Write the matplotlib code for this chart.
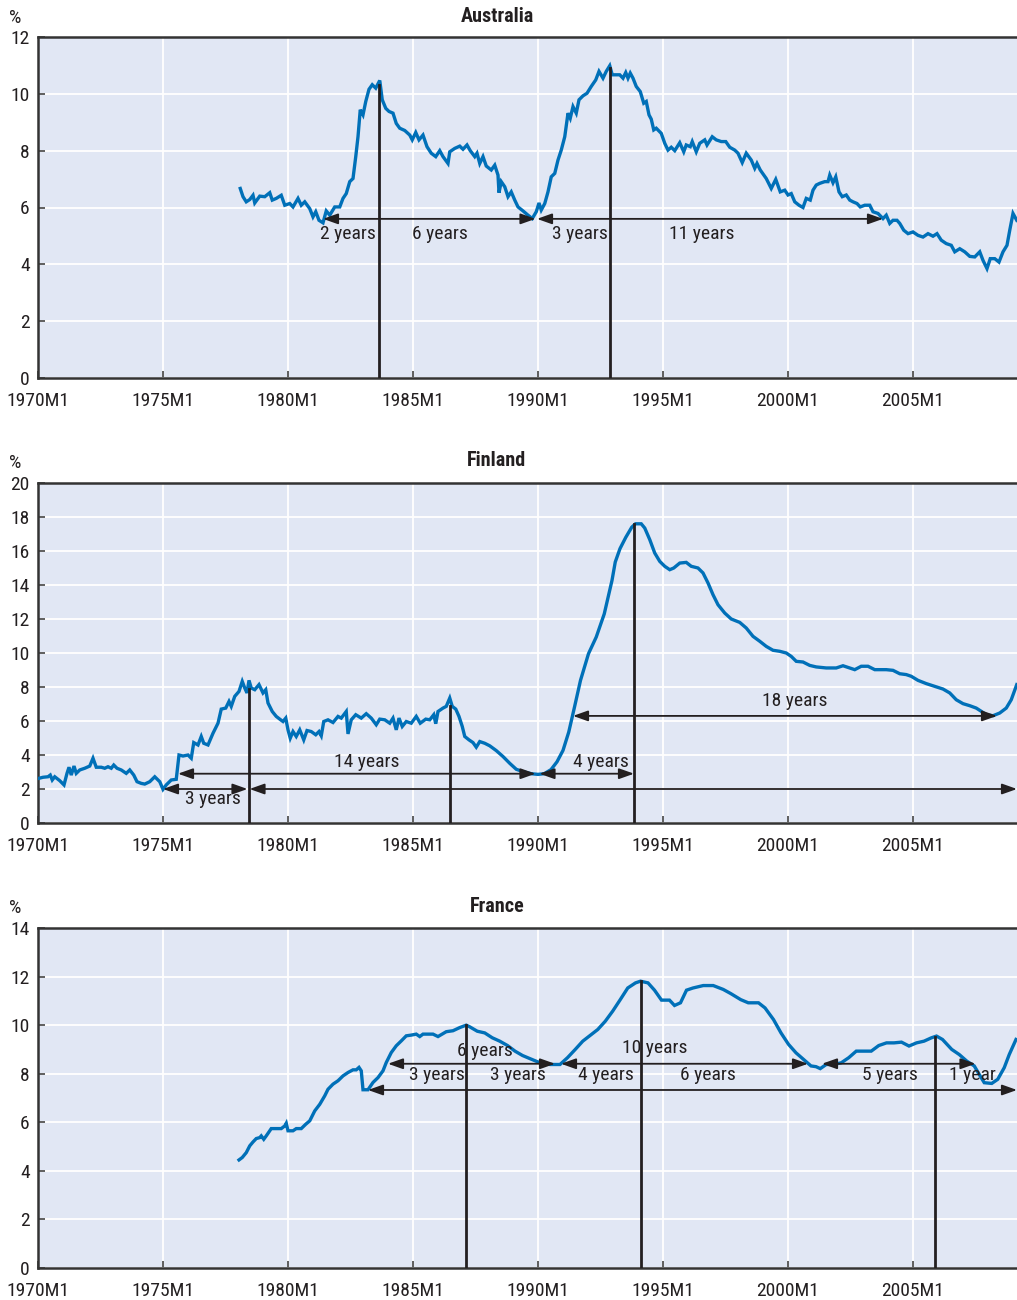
import matplotlib
matplotlib.use("Agg")
from matplotlib import pyplot as plt
from matplotlib import font_manager

# --- Australia --------------------------------------------------------------
aus_x = [1978.09, 1978.2, 1978.33, 1978.47, 1978.6, 1978.67, 1978.87, 1979.07,
         1979.27, 1979.37, 1979.53, 1979.73, 1979.87, 1980.07, 1980.2, 1980.4,
         1980.53, 1980.67, 1980.87, 1981.0, 1981.11, 1981.24, 1981.4, 1981.53,
         1981.67, 1981.87, 1982.07, 1982.2, 1982.33, 1982.47, 1982.6, 1982.71,
         1982.8, 1982.89, 1983.0, 1983.11, 1983.24, 1983.37, 1983.51, 1983.67,
         1983.77, 1983.91, 1984.04, 1984.2, 1984.33, 1984.47, 1984.67, 1984.87,
         1984.97, 1985.11, 1985.24, 1985.4, 1985.56, 1985.73, 1985.91, 1986.07,
         1986.2, 1986.4, 1986.47, 1986.67, 1986.87, 1987.0, 1987.16, 1987.29,
         1987.47, 1987.56, 1987.67, 1987.8, 1987.93, 1988.13, 1988.27, 1988.4,
         1988.44, 1988.53, 1988.67, 1988.8, 1988.93, 1989.07, 1989.2, 1989.4,
         1989.6, 1989.77, 1989.93, 1990.04, 1990.13, 1990.27, 1990.4, 1990.53,
         1990.67, 1990.8, 1990.93, 1991.07, 1991.2, 1991.29, 1991.4, 1991.53,
         1991.64, 1991.8, 1991.96, 1992.13, 1992.31, 1992.44, 1992.6, 1992.73,
         1992.87, 1992.97, 1993.13, 1993.27, 1993.4, 1993.51, 1993.6, 1993.69,
         1993.8, 1993.93, 1994.09, 1994.23, 1994.33, 1994.44, 1994.53, 1994.63,
         1994.73, 1994.93, 1995.07, 1995.2, 1995.33, 1995.47, 1995.67, 1995.83,
         1995.93, 1996.09, 1996.17, 1996.33, 1996.47, 1996.67, 1996.76, 1996.97,
         1997.13, 1997.33, 1997.51, 1997.67, 1997.87, 1998.0, 1998.17, 1998.33,
         1998.53, 1998.67, 1998.76, 1998.89, 1999.13, 1999.33, 1999.51, 1999.69,
         1999.87, 2000.0, 2000.13, 2000.27, 2000.44, 2000.6, 2000.73, 2000.89,
         2001.0, 2001.13, 2001.27, 2001.47, 2001.6, 2001.67, 2001.8, 2001.91,
         2002.04, 2002.17, 2002.33, 2002.47, 2002.6, 2002.76, 2002.89, 2003.07,
         2003.27, 2003.4, 2003.6, 2003.8, 2003.93, 2004.07, 2004.2, 2004.36,
         2004.47, 2004.63, 2004.8, 2005.0, 2005.2, 2005.4, 2005.6, 2005.8,
         2005.96, 2006.13, 2006.33, 2006.53, 2006.67, 2006.87, 2007.07, 2007.27,
         2007.47, 2007.67, 2007.8, 2007.96, 2008.09, 2008.27, 2008.44, 2008.6,
         2008.76, 2008.87, 2009.0, 2009.15]
aus_y = [6.67, 6.38, 6.2, 6.28, 6.43, 6.16, 6.4, 6.38,
         6.52, 6.26, 6.32, 6.43, 6.08, 6.14, 6.02, 6.32,
         6.08, 6.2, 5.96, 5.67, 5.85, 5.55, 5.46, 5.88,
         5.73, 6.02, 6.02, 6.32, 6.49, 6.91, 7.02, 7.79,
         8.49, 9.44, 9.26, 9.73, 10.16, 10.32, 10.2, 10.47,
         9.79, 9.49, 9.38, 9.32, 8.96, 8.79, 8.71, 8.55,
         8.38, 8.64, 8.38, 8.55, 8.14, 7.91, 7.79, 8.0,
         7.79, 7.55, 7.96, 8.08, 8.16, 8.05, 8.2, 8.0,
         7.79, 7.91, 7.55, 7.79, 7.46, 7.32, 7.49, 7.14,
         6.52, 6.91, 6.73, 6.38, 6.55, 6.26, 6.02, 5.88,
         5.73, 5.61, 5.85, 6.16, 5.91, 6.14, 6.55, 7.08,
         7.2, 7.67, 8.02, 8.49, 9.32, 9.14, 9.55, 9.32,
         9.79, 9.93, 10.02, 10.26, 10.49, 10.79, 10.55, 10.79,
         10.99, 10.67, 10.67, 10.67, 10.55, 10.75, 10.55, 10.73,
         10.55, 10.26, 10.08, 9.67, 9.73, 9.26, 9.11, 8.73,
         8.79, 8.61, 8.26, 8.02, 8.12, 8.0, 8.28, 7.96,
         8.2, 8.14, 8.32, 7.96, 8.26, 8.38, 8.2, 8.49,
         8.38, 8.32, 8.32, 8.12, 8.02, 7.91, 7.58, 7.91,
         7.67, 7.38, 7.55, 7.32, 7.02, 6.67, 6.99, 6.55,
         6.61, 6.44, 6.49, 6.2, 6.08, 6.0, 6.32, 6.26,
         6.61, 6.79, 6.85, 6.91, 6.91, 7.14, 6.87, 7.08,
         6.55, 6.38, 6.44, 6.26, 6.2, 6.14, 6.02, 6.08,
         6.08, 5.85, 5.79, 5.61, 5.73, 5.44, 5.55, 5.55,
         5.44, 5.2, 5.08, 5.14, 5.02, 4.96, 5.08, 4.99,
         5.08, 4.85, 4.73, 4.67, 4.44, 4.55, 4.44, 4.28,
         4.26, 4.44, 4.14, 3.85, 4.2, 4.2, 4.08, 4.44,
         4.67, 5.2, 5.79, 5.55]

# --- Finland ----------------------------------------------------------------
fin_x = [1970.04, 1970.2, 1970.4, 1970.49, 1970.57, 1970.67, 1970.87, 1971.04,
         1971.16, 1971.24, 1971.33, 1971.44, 1971.53, 1971.67, 1971.87, 1972.07,
         1972.2, 1972.33, 1972.53, 1972.67, 1972.8, 1972.93, 1973.03, 1973.16,
         1973.33, 1973.53, 1973.67, 1973.83, 1973.96, 1974.13, 1974.27, 1974.47,
         1974.67, 1974.87, 1975.0, 1975.13, 1975.33, 1975.53, 1975.64, 1975.8,
         1976.0, 1976.13, 1976.23, 1976.4, 1976.53, 1976.63, 1976.8, 1977.0,
         1977.2, 1977.33, 1977.51, 1977.64, 1977.73, 1977.87, 1978.04, 1978.17,
         1978.27, 1978.36, 1978.44, 1978.53, 1978.67, 1978.84, 1979.0, 1979.11,
         1979.2, 1979.37, 1979.53, 1979.67, 1979.8, 1979.91, 1980.0, 1980.09,
         1980.2, 1980.33, 1980.47, 1980.63, 1980.76, 1980.93, 1981.11, 1981.24,
         1981.33, 1981.43, 1981.6, 1981.8, 1982.0, 1982.13, 1982.33, 1982.4,
         1982.53, 1982.71, 1982.93, 1983.13, 1983.33, 1983.53, 1983.67, 1983.87,
         1984.07, 1984.2, 1984.33, 1984.44, 1984.57, 1984.73, 1984.93, 1985.13,
         1985.29, 1985.51, 1985.67, 1985.83, 1985.91, 1986.0, 1986.2, 1986.33,
         1986.47, 1986.57, 1986.71, 1986.84, 1986.97, 1987.07, 1987.24, 1987.4,
         1987.53, 1987.67, 1987.87, 1988.07, 1988.33, 1988.6, 1988.87, 1989.13,
         1989.4, 1989.73, 1990.0, 1990.25, 1990.52, 1990.76, 1991.0, 1991.23,
         1991.46, 1991.7, 1992.02, 1992.33, 1992.65, 1992.96, 1993.09, 1993.28,
         1993.51, 1993.75, 1993.9, 1994.13, 1994.27, 1994.47, 1994.67, 1994.87,
         1995.07, 1995.27, 1995.43, 1995.67, 1995.93, 1996.13, 1996.4, 1996.6,
         1996.8, 1997.0, 1997.2, 1997.47, 1997.73, 1998.07, 1998.33, 1998.6,
         1998.87, 1999.13, 1999.4, 1999.67, 1999.93, 2000.13, 2000.33, 2000.6,
         2000.87, 2001.13, 2001.53, 2001.93, 2002.2, 2002.47, 2002.67, 2002.93,
         2003.2, 2003.47, 2003.93, 2004.2, 2004.47, 2004.73, 2004.93, 2005.2,
         2005.53, 2005.87, 2006.2, 2006.47, 2006.73, 2007.0, 2007.27, 2007.53,
         2007.73, 2007.93, 2008.2, 2008.47, 2008.73, 2008.93, 2009.15]
fin_y = [2.63, 2.69, 2.72, 2.82, 2.53, 2.72, 2.49, 2.24,
         2.92, 3.28, 2.82, 3.35, 2.92, 3.12, 3.22, 3.35,
         3.81, 3.28, 3.28, 3.22, 3.31, 3.22, 3.41, 3.22,
         3.12, 2.92, 3.12, 2.82, 2.43, 2.33, 2.29, 2.43,
         2.72, 2.43, 1.98, 2.24, 2.53, 2.57, 4.0, 3.94,
         4.0, 3.81, 4.73, 4.59, 5.09, 4.69, 4.59, 5.28,
         5.87, 6.7, 6.76, 7.15, 6.86, 7.45, 7.74, 8.33,
         7.94, 7.65, 8.39, 7.94, 7.84, 8.14, 7.65, 7.84,
         7.06, 6.56, 6.27, 6.11, 5.97, 6.17, 5.48, 4.99,
         5.38, 5.09, 5.48, 4.89, 5.44, 5.38, 5.19, 5.38,
         5.13, 5.97, 6.07, 5.91, 6.27, 6.17, 6.56, 5.24,
         6.07, 6.37, 6.17, 6.43, 6.17, 5.78, 6.11, 6.07,
         5.87, 6.17, 5.48, 6.17, 5.68, 5.97, 5.87, 6.27,
         5.87, 6.11, 6.07, 6.37, 5.84, 6.56, 6.76, 6.86,
         7.35, 6.86, 6.7, 6.27, 5.68, 5.09, 4.89, 4.73,
         4.46, 4.79, 4.69, 4.54, 4.26, 3.91, 3.51, 3.16,
         3.02, 2.9, 2.86, 2.9, 3.14, 3.6, 4.27, 5.35,
         6.82, 8.39, 9.96, 10.94, 12.3, 14.27, 15.35, 16.14,
         16.8, 17.4, 17.6, 17.6, 17.35, 16.67, 15.88, 15.39,
         15.1, 14.9, 15.0, 15.29, 15.33, 15.1, 15.0, 14.71,
         14.12, 13.43, 12.84, 12.35, 12.0, 11.8, 11.47, 10.98,
         10.69, 10.39, 10.16, 10.1, 10.0, 9.8, 9.51, 9.47,
         9.27, 9.18, 9.12, 9.12, 9.25, 9.12, 9.02, 9.22,
         9.22, 9.02, 9.02, 8.98, 8.78, 8.73, 8.63, 8.39,
         8.2, 8.04, 7.88, 7.65, 7.25, 7.02, 6.9, 6.76,
         6.57, 6.37, 6.31, 6.47, 6.76, 7.25, 8.14]

# --- France -----------------------------------------------------------------
fra_x = [1978.04, 1978.17, 1978.33, 1978.47, 1978.6, 1978.73, 1978.87, 1978.93,
         1979.03, 1979.13, 1979.33, 1979.73, 1979.87, 1979.93, 1980.0, 1980.2,
         1980.33, 1980.53, 1980.71, 1980.87, 1981.07, 1981.27, 1981.47, 1981.6,
         1981.8, 1982.0, 1982.2, 1982.4, 1982.6, 1982.73, 1982.84, 1982.93,
         1983.0, 1983.2, 1983.4, 1983.6, 1983.8, 1983.93, 1984.13, 1984.33,
         1984.53, 1984.73, 1984.93, 1985.13, 1985.27, 1985.4, 1985.8, 1986.0,
         1986.33, 1986.6, 1986.87, 1987.13, 1987.27, 1987.57, 1987.87, 1988.17,
         1988.47, 1988.78, 1989.08, 1989.38, 1989.68, 1990.08, 1990.48, 1990.88,
         1991.18, 1991.49, 1991.79, 1992.09, 1992.39, 1992.69, 1992.99, 1993.29,
         1993.59, 1993.9, 1994.1, 1994.4, 1994.66, 1994.94, 1995.26, 1995.46,
         1995.7, 1995.94, 1996.2, 1996.61, 1997.01, 1997.41, 1997.71, 1998.11,
         1998.41, 1998.82, 1999.08, 1999.42, 1999.72, 2000.02, 2000.32, 2000.62,
         2000.92, 2001.12, 2001.29, 2001.53, 2001.83, 2002.13, 2002.43, 2002.73,
         2003.03, 2003.33, 2003.63, 2003.94, 2004.24, 2004.54, 2004.84, 2005.14,
         2005.44, 2005.74, 2005.94, 2006.18, 2006.55, 2006.85, 2007.15, 2007.45,
         2007.65, 2007.85, 2008.15, 2008.39, 2008.65, 2008.85, 2009.12]
fra_y = [4.45, 4.55, 4.75, 5.03, 5.19, 5.33, 5.37, 5.44,
         5.3, 5.44, 5.74, 5.74, 5.85, 5.96, 5.65, 5.65,
         5.74, 5.74, 5.92, 6.06, 6.47, 6.74, 7.09, 7.36,
         7.57, 7.71, 7.91, 8.05, 8.16, 8.16, 8.26, 8.12,
         7.34, 7.34, 7.64, 7.84, 8.12, 8.46, 8.87, 9.15,
         9.35, 9.56, 9.59, 9.63, 9.53, 9.63, 9.63, 9.53,
         9.73, 9.77, 9.9, 10.0, 9.93, 9.75, 9.68, 9.48,
         9.34, 9.16, 8.93, 8.75, 8.62, 8.45, 8.38, 8.38,
         8.66, 9.0, 9.34, 9.58, 9.82, 10.16, 10.58, 11.05,
         11.53, 11.74, 11.81, 11.74, 11.44, 11.03, 11.03, 10.81,
         10.92, 11.44, 11.53, 11.63, 11.63, 11.47, 11.3, 11.05,
         10.92, 10.92, 10.71, 10.23, 9.68, 9.21, 8.86, 8.59,
         8.32, 8.29, 8.21, 8.38, 8.38, 8.45, 8.66, 8.93,
         8.93, 8.93, 9.16, 9.27, 9.27, 9.3, 9.14, 9.27,
         9.34, 9.48, 9.55, 9.41, 9.0, 8.79, 8.52, 8.32,
         7.97, 7.63, 7.6, 7.77, 8.25, 8.79, 9.41]

# --- annotations: peaks (vertical lines), cycle arrows, duration labels ------
aus_peaks = [(1983.64, 10.3), (1992.88, 10.9)]
aus_arrows = [(1981.4, 1989.9, 5.6), (1989.96, 2003.8, 5.6)]
aus_labels = [("2 years", 1982.4, 5.07), ("6 years", 1986.08, 5.07),
              ("3 years", 1991.68, 5.07), ("11 years", 1996.56, 5.07)]

fin_peaks = [(1978.42, 7.9), (1986.48, 6.9), (1993.84, 17.6)]
fin_arrows = [(1975.0, 1978.38, 2.0), (1978.46, 2009.16, 2.0),
              (1975.6, 1989.9, 2.9), (1990.06, 1993.84, 2.9),
              (1991.4, 2008.36, 6.3)]
fin_labels = [("3 years", 1976.98, 1.42), ("14 years", 1983.16, 3.6),
              ("4 years", 1992.52, 3.6), ("18 years", 2000.28, 7.2)]

fra_peaks = [(1987.12, 10.0), (1994.12, 11.8), (2005.88, 9.5)]
fra_arrows = [(1984.0, 1990.68, 8.41), (1990.92, 2000.8, 8.41),
              (2001.36, 2007.5, 8.41), (1983.2, 2009.16, 7.33)]
fra_labels = [("6 years", 1987.88, 8.95), ("3 years", 1985.96, 7.95),
              ("3 years", 1989.2, 7.95), ("10 years", 1994.68, 9.06),
              ("4 years", 1992.72, 7.95), ("6 years", 1996.8, 7.95),
              ("5 years", 2004.08, 7.95), ("1 year", 2007.36, 7.95)]

countries = ["Australia", "Finland", "France"]
y_max = [12, 20, 14]
x_ticks = [1970, 1975, 1980, 1985, 1990, 1995, 2000, 2005]
x_tick_labels = ["1970M1", "1975M1", "1980M1", "1985M1", "1990M1",
                 "1995M1", "2000M1", "2005M1"]

# condensed font if available
installed = {f.name for f in font_manager.fontManager.ttflist}
main_font = "DejaVu Sans"
for cand in ["Liberation Sans Narrow", "Roboto Condensed", "Open Sans Condensed"]:
    if cand in installed:
        main_font = cand
        break
plt.rcParams["font.family"] = [main_font, "DejaVu Sans"]

INK = "#231f20"
BLUE = "#0070b8"
BG = "#e1e7f4"

fig = plt.figure(figsize=(10.17, 13.0), dpi=100)

panels = [
    (aus_x, aus_y, aus_peaks, aus_arrows, aus_labels),
    (fin_x, fin_y, fin_peaks, fin_arrows, fin_labels),
    (fra_x, fra_y, fra_peaks, fra_arrows, fra_labels),
]
tops_px = [37, 483, 928]
bottoms_px = [378, 823, 1268]
title_px = [16, 461, 906]

for i, (xs, ys, peaks, arrows, labels) in enumerate(panels):
    top, bottom = tops_px[i], bottoms_px[i]
    ax = fig.add_axes([38 / 1017, (1300 - bottom) / 1300,
                       979 / 1017, (bottom - top) / 1300])
    ax.set_facecolor(BG)
    ax.set_xlim(1970, 2009.16)
    ax.set_ylim(0, y_max[i])
    ax.set_xticks(x_ticks)
    ax.set_xticklabels(x_tick_labels)
    ax.set_yticks(range(0, y_max[i] + 1, 2))
    ax.grid(True, color="white", linewidth=1.3)
    ax.set_axisbelow(True)
    ax.tick_params(direction="in", length=5, width=1.2, color="#444444",
                   labelsize=14, labelcolor=INK, pad=6)
    ax.tick_params(axis="x", pad=10)
    for side in ["left", "top", "bottom"]:
        ax.spines[side].set_color("#333333")
        ax.spines[side].set_linewidth(1.8)
    ax.spines["right"].set_visible(False)

    ax.plot(xs, ys, color=BLUE, linewidth=2.4, solid_joinstyle="miter", zorder=3)

    for px, top_val in peaks:
        ax.plot([px, px], [0, top_val], color=INK, linewidth=2.0, zorder=4)

    for x0, x1, yv in arrows:
        ax.annotate("", xy=(x1, yv), xytext=(x0, yv),
                    arrowprops=dict(arrowstyle="<|-|>,head_length=0.9,head_width=0.32",
                                    color=INK, lw=1.3, shrinkA=0, shrinkB=0),
                    annotation_clip=False, zorder=5)

    for txt, lx, ly in labels:
        ax.text(lx, ly, txt, ha="center", va="center", fontsize=14,
                color=INK, zorder=6)

    fig.text(497 / 1017, 1 - title_px[i] / 1300, countries[i], ha="center",
             va="center", fontsize=14.5, fontweight="bold", color=INK)
    fig.text(15 / 1017, 1 - (title_px[i] + 2) / 1300, "%", ha="center",
             va="center", fontsize=14, color=INK)

fig.savefig("out.png", dpi=100, facecolor="white")
